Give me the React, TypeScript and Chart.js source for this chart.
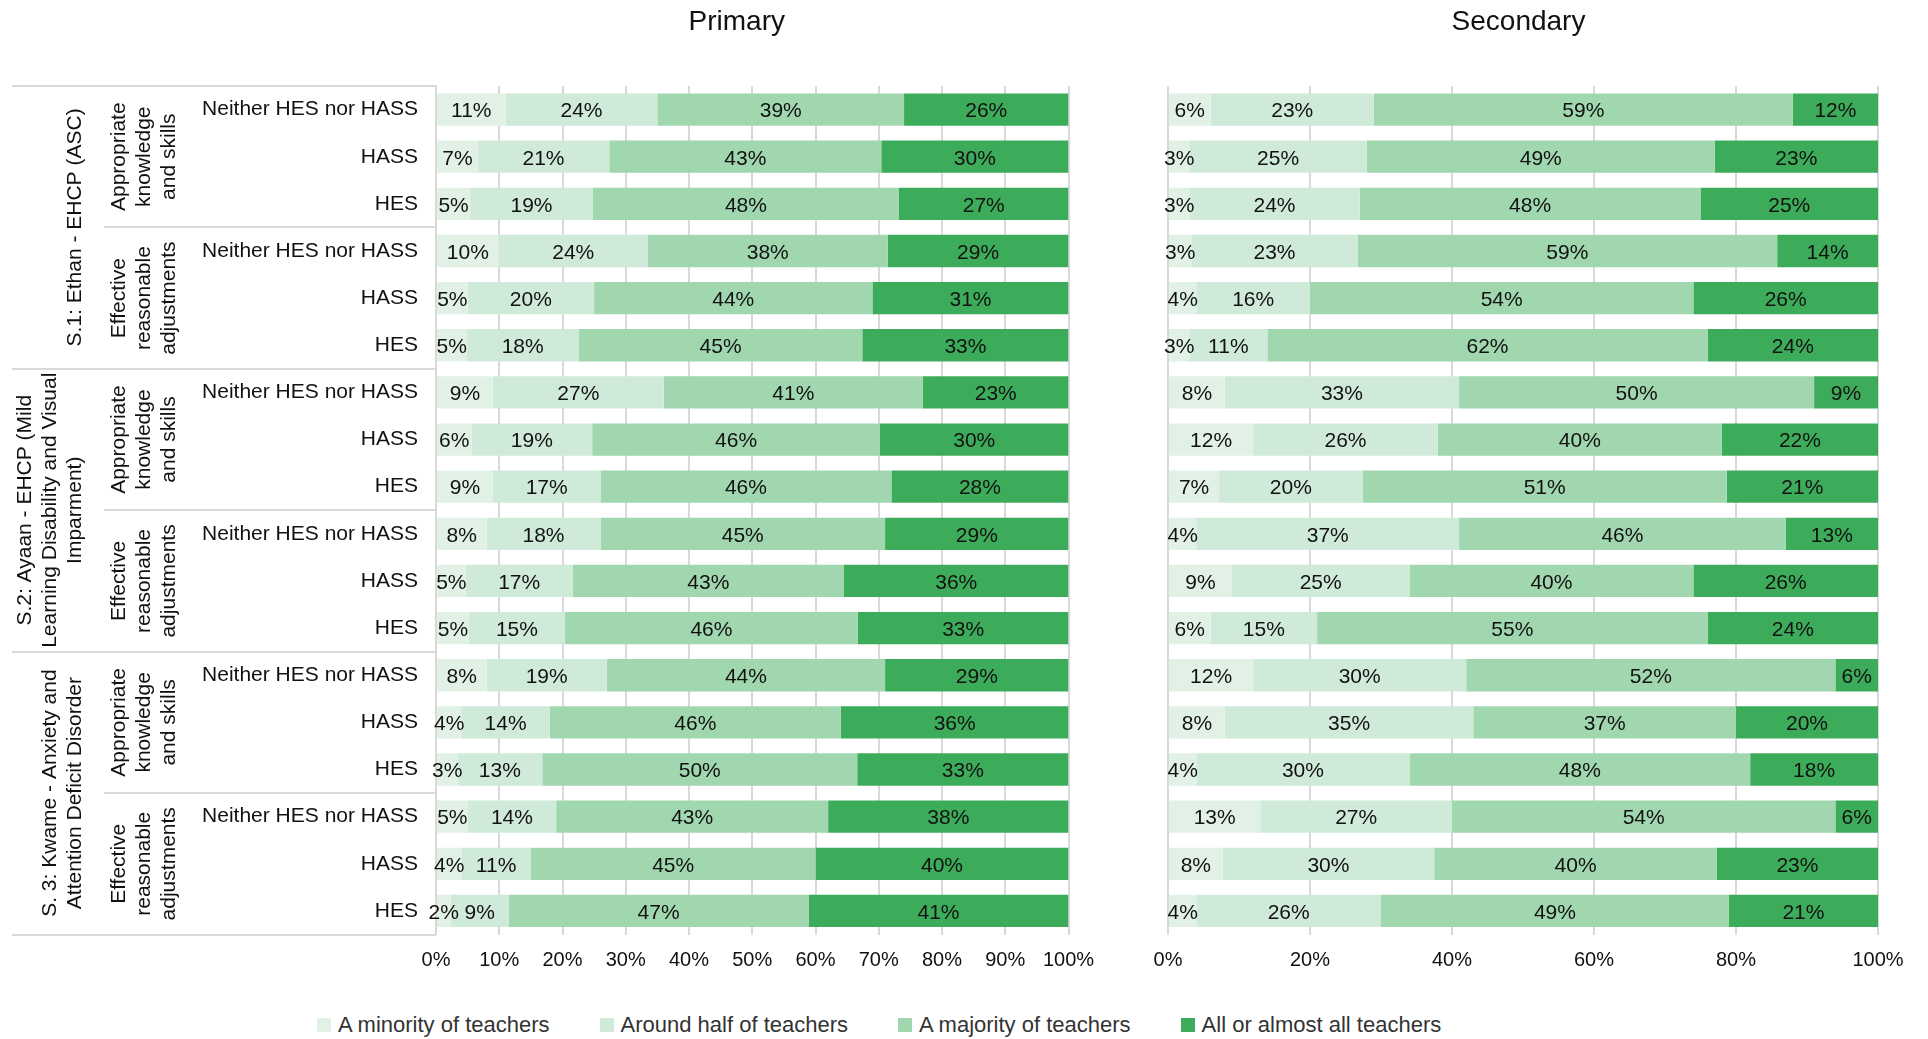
import React, { useEffect, useRef } from "react";
import { Chart, registerables } from "chart.js";

Chart.register(...registerables);

// ---------- DATA ----------
const ROW_LABELS = [
  "Neither HES nor HASS", "HASS", "HES",
  "Neither HES nor HASS", "HASS", "HES",
  "Neither HES nor HASS", "HASS", "HES",
  "Neither HES nor HASS", "HASS", "HES",
  "Neither HES nor HASS", "HASS", "HES",
  "Neither HES nor HASS", "HASS", "HES",
];

const SUBGROUP_LABELS = [
  ["Appropriate", "knowledge", "and skills"],
  ["Effective", "reasonable", "adjustments"],
  ["Appropriate", "knowledge", "and skills"],
  ["Effective", "reasonable", "adjustments"],
  ["Appropriate", "knowledge", "and skills"],
  ["Effective", "reasonable", "adjustments"],
];

const GROUP_LABELS = [
  ["S.1: Ethan - EHCP (ASC)"],
  ["S.2: Ayaan - EHCP (Mild", "Learning Disability and Visual", "Imparment)"],
  ["S. 3: Kwame - Anxiety and", "Attention Deficit Disorder"],
];

const SERIES_NAMES = [
  "A minority of teachers",
  "Around half of teachers",
  "A majority of teachers",
  "All or almost all teachers",
];
const SERIES_COLORS = ["#E2F1E6", "#D0EADA", "#A0D7AF", "#3DAC5A"];

const PRIMARY_MINORITY = [11, 6.6, 5.4, 9.9, 5, 4.8, 9, 5.6, 9, 8, 4.7, 5.2, 8, 4, 3.4, 5, 4, 2.3];
const PRIMARY_HALF = [24, 20.8, 19.4, 23.6, 20, 17.8, 27, 19.1, 17, 18, 16.9, 15.2, 19, 14, 13.4, 14, 11, 9.2];
const PRIMARY_MAJORITY = [39, 43, 48.4, 37.9, 44, 44.8, 41, 45.5, 46, 45, 42.9, 46.3, 44, 46, 49.8, 43, 45, 47.4];
const PRIMARY_ALL = [26, 29.6, 26.8, 28.6, 31, 32.6, 23, 29.8, 28, 29, 35.5, 33.3, 29, 36, 33.4, 38, 40, 41.1];

const SECONDARY_MINORITY = [6, 3, 3, 3.3, 4, 3, 8, 12, 7.2, 4, 9, 6, 12, 8, 4, 13, 7.7, 4];
const SECONDARY_HALF = [23, 25, 24, 23.4, 16, 11, 33, 26, 20.2, 37, 25, 15, 30, 35, 30, 27, 29.8, 26];
const SECONDARY_MAJORITY = [59, 49, 48, 59.1, 54, 62, 50, 40, 51.3, 46, 40, 55, 52, 37, 48, 54, 39.8, 49];
const SECONDARY_ALL = [12, 23, 25, 14.2, 26, 24, 9, 22, 21.3, 13, 26, 24, 6, 20, 18, 6, 22.7, 21];

const PRIMARY_SERIES = [PRIMARY_MINORITY, PRIMARY_HALF, PRIMARY_MAJORITY, PRIMARY_ALL];
const SECONDARY_SERIES = [SECONDARY_MINORITY, SECONDARY_HALF, SECONDARY_MAJORITY, SECONDARY_ALL];

const PRIMARY_TITLE = "Primary";
const SECONDARY_TITLE = "Secondary";

// ---------- STYLE ----------
const FONT = '"Liberation Sans", Arial, Helvetica, sans-serif';
const TEXT = "#111111";
const LINE = "#D9D9D9";

const valueLabels = {
  id: "valueLabels",
  afterDatasetsDraw(chart: any) {
    const ctx = chart.ctx;
    ctx.save();
    ctx.font = `21px ${FONT}`;
    ctx.fillStyle = TEXT;
    ctx.textAlign = "center";
    ctx.textBaseline = "middle";
    chart.data.datasets.forEach((ds: any, di: number) => {
      const meta = chart.getDatasetMeta(di);
      meta.data.forEach((bar: any, i: number) => {
        const v = ds.data[i] as number;
        const p = bar.getProps(["x", "base", "y"], true);
        ctx.fillText(`${Math.round(v)}%`, (p.x + p.base) / 2, p.y + 2);
      });
    });
    ctx.restore();
  },
};

const panelTitle = {
  id: "panelTitle",
  afterDraw(chart: any, _args: any, opts: any) {
    const { ctx, chartArea } = chart;
    ctx.save();
    ctx.font = `28px ${FONT}`;
    ctx.fillStyle = TEXT;
    ctx.textAlign = "center";
    ctx.textBaseline = "middle";
    ctx.fillText(opts.text, (chartArea.left + chartArea.right) / 2 + opts.dx, opts.y);
    ctx.restore();
  },
};

const rowTable = {
  id: "rowTable",
  afterDraw(chart: any) {
    const { ctx, chartArea } = chart;
    const n = chart.data.labels.length;
    const step = (chartArea.bottom - chartArea.top) / n;
    ctx.save();
    ctx.strokeStyle = LINE;
    ctx.lineWidth = 2;
    for (let k = 0; k <= n; k += 3) {
      const y = Math.round(chartArea.top + k * step);
      const x0 = k % 6 === 0 ? 12 : 104;
      ctx.beginPath();
      ctx.moveTo(x0, y);
      ctx.lineTo(chartArea.left, y);
      ctx.stroke();
    }
    ctx.font = `21px ${FONT}`;
    ctx.fillStyle = TEXT;
    ctx.textAlign = "center";
    ctx.textBaseline = "middle";
    SUBGROUP_LABELS.forEach((lines, g) => {
      const yc = chartArea.top + (g * 3 + 1.5) * step;
      ctx.save();
      ctx.translate(119, yc);
      ctx.rotate(-Math.PI / 2);
      lines.forEach((t, i) => ctx.fillText(t, 0, i * 25));
      ctx.restore();
    });
    GROUP_LABELS.forEach((lines, g) => {
      const yc = chartArea.top + (g * 6 + 3) * step;
      ctx.save();
      ctx.translate(75, yc);
      ctx.rotate(-Math.PI / 2);
      lines.forEach((t, i) => ctx.fillText(t, 0, (i - (lines.length - 1)) * 25));
      ctx.restore();
    });
    ctx.restore();
  },
};

function makeDatasets(series: number[][]) {
  return SERIES_NAMES.map((name, s) => ({
    label: name,
    data: series[s],
    backgroundColor: SERIES_COLORS[s],
    borderWidth: 0,
    barPercentage: 0.685,
    categoryPercentage: 1,
  }));
}

function xScale(step: number) {
  return {
    stacked: true,
    min: 0,
    max: 100,
    z: 1,
    ticks: {
      stepSize: step,
      callback: (v: any) => `${v}%`,
      font: { family: FONT, size: 20 },
      color: TEXT,
      padding: 14,
      maxRotation: 0,
      autoSkip: false,
    },
    grid: { color: "rgba(0,0,0,0.15)", lineWidth: 2, drawTicks: false },
    border: { display: false },
    afterFit: (s: any) => {
      s.height = 65.5;
      s.paddingLeft = 0;
      s.paddingRight = 0;
    },
  };
}

function PrimaryChart() {
  const ref = useRef<HTMLCanvasElement | null>(null);
  useEffect(() => {
    const chart = new Chart(ref.current as HTMLCanvasElement, {
      type: "bar",
      data: { labels: ROW_LABELS, datasets: makeDatasets(PRIMARY_SERIES) as any },
      options: {
        indexAxis: "y",
        responsive: false,
        animation: false,
        layout: { padding: { left: 0, right: 31.5, top: 86, bottom: 0 } },
        plugins: {
          legend: { display: false },
          tooltip: { enabled: false },
          title: { display: false },
          panelTitle: { text: PRIMARY_TITLE, dx: -15.5, y: 22 },
        } as any,
        scales: {
          x: xScale(10) as any,
          y: {
            stacked: true,
            ticks: { font: { family: FONT, size: 21 }, color: TEXT, padding: 18 },
            grid: { display: false, drawTicks: false },
            border: { display: true, color: LINE, width: 2 },
            afterFit: (s: any) => {
              s.width = 436;
              s.paddingTop = 0;
              s.paddingBottom = 0;
            },
          } as any,
        },
      },
      plugins: [valueLabels, panelTitle, rowTable],
    });
    return () => chart.destroy();
  }, []);
  return (
    <canvas
      ref={ref}
      width={1100}
      height={1000}
      style={{ position: "absolute", left: 0, top: 0, width: 1100, height: 1000 }}
    />
  );
}

function SecondaryChart() {
  const ref = useRef<HTMLCanvasElement | null>(null);
  useEffect(() => {
    const chart = new Chart(ref.current as HTMLCanvasElement, {
      type: "bar",
      data: { labels: ROW_LABELS, datasets: makeDatasets(SECONDARY_SERIES) as any },
      options: {
        indexAxis: "y",
        responsive: false,
        animation: false,
        layout: { padding: { left: 68, right: 50, top: 86, bottom: 0 } },
        plugins: {
          legend: { display: false },
          tooltip: { enabled: false },
          title: { display: false },
          panelTitle: { text: SECONDARY_TITLE, dx: -4.5, y: 22 },
        } as any,
        scales: {
          x: xScale(20) as any,
          y: { stacked: true, display: false } as any,
        },
      },
      plugins: [valueLabels, panelTitle],
    });
    return () => chart.destroy();
  }, []);
  return (
    <canvas
      ref={ref}
      width={828}
      height={1000}
      style={{ position: "absolute", left: 1100, top: 0, width: 828, height: 1000 }}
    />
  );
}

function Legend() {
  return (
    <div
      style={{
        position: "absolute",
        left: 317,
        top: 1013,
        display: "flex",
        alignItems: "center",
        gap: 50,
        fontFamily: FONT,
        fontSize: 22,
        lineHeight: "24px",
        color: "#333",
        whiteSpace: "nowrap",
      }}
    >
      {SERIES_NAMES.map((name, i) => (
        <div key={name} style={{ display: "flex", alignItems: "center" }}>
          <span
            style={{
              display: "inline-block",
              width: 14,
              height: 14,
              background: SERIES_COLORS[i],
              marginRight: 7,
            }}
          />
          <span>{name}</span>
        </div>
      ))}
    </div>
  );
}

export default function App() {
  return (
    <div
      style={{
        position: "fixed",
        left: 0,
        top: 0,
        width: 1928,
        height: 1039,
        background: "#ffffff",
        overflow: "hidden",
      }}
    >
      <PrimaryChart />
      <SecondaryChart />
      <Legend />
    </div>
  );
}
